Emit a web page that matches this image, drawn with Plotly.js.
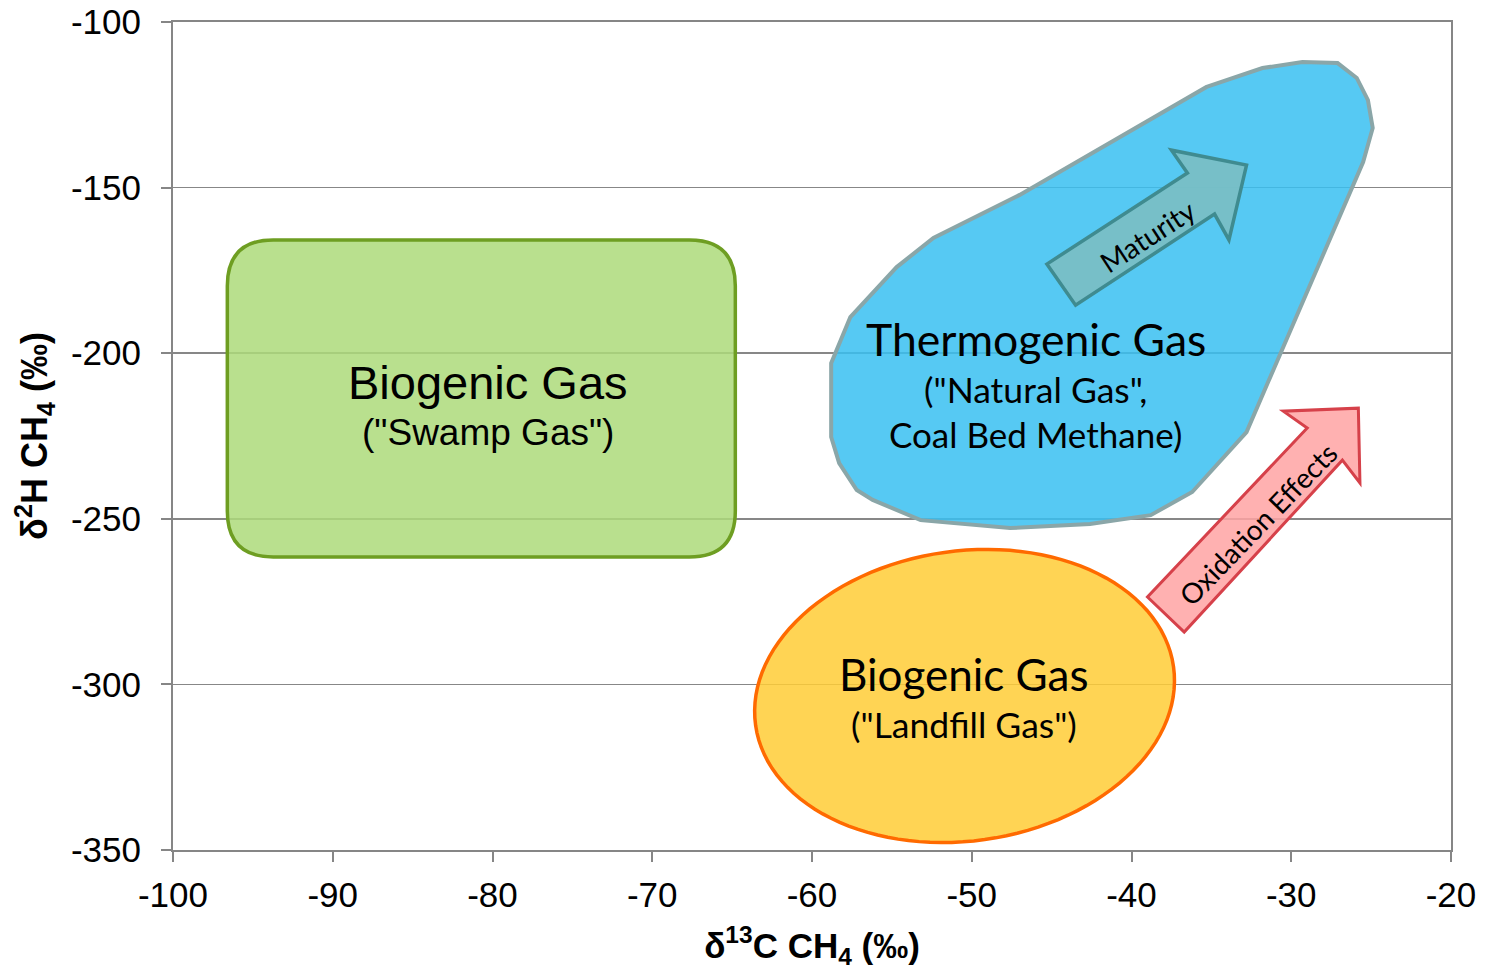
<!DOCTYPE html>
<html>
<head>
<meta charset="utf-8">
<script src="https://cdn.plot.ly/plotly-3.0.1.min.js"></script>
<style>html,body{margin:0;padding:0;background:#fff;}</style>
</head>
<body>
<div id="chart" style="width:1487px;height:970px;"></div>
<script>
// ---- axis ticks ----
const xTickVals = [-100, -90, -80, -70, -60, -50, -40, -30, -20];
const xTickText = ['-100', '-90', '-80', '-70', '-60', '-50', '-40', '-30', '-20'];
const yTickVals = [-100, -150, -200, -250, -300, -350];
const yTickText = ['-100', '-150', '-200', '-250', '-300', '-350'];

// ---- field outlines (δ13C, δ2H) ----
const swampX = [-96.6, -64.8];          // left, right
const swampY = [-261.5, -165.8];        // bottom, top
const thermoX = [-35.3, -31.8, -29.3, -27.1, -25.9, -25.2, -24.9, -25.5, -32.8, -36.2, -38.8, -42.6, -47.6, -53.2, -56.2, -57.2, -58.3, -58.8, -58.8, -57.6, -54.7, -52.4, -47.0];
const thermoY = [-119.6, -113.9, -112.1, -112.4, -116.9, -123.6, -132.0, -142.3, -223.8, -241.9, -248.9, -251.6, -252.8, -250.4, -244.3, -241.3, -233.2, -225.3, -203.0, -189.1, -174.0, -165.2, -152.2];
const landfillCenter = [-50.45, -303.5];

// ---- trend arrows ----
const maturityX = [-45.3, -43.5, -34.8, -33.9, -32.8, -37.5, -36.5];
const maturityY = [-173.1, -185.5, -158.0, -165.8, -143.2, -138.7, -145.6];
const oxidationX = [-39.0, -36.7, -26.8, -25.7, -25.8, -30.5, -29.0];
const oxidationY = [-273.6, -284.2, -232.3, -239.2, -216.6, -217.5, -222.6];

// ---- labels ----
const labelText = ['Biogenic Gas', '("Swamp Gas")', 'Thermogenic Gas', '("Natural Gas",', 'Coal Bed Methane)', 'Biogenic Gas', '("Landfill Gas")', 'Maturity', 'Oxidation Effects'];
const labelX = [-80.3, -80.3, -46.0, -46.0, -46.0, -50.5, -50.5, -39.0, -32.1];
const labelY = [-208.7, -223.8, -195.6, -211.1, -224.4, -296.8, -312.2, -164.6, -251.6];

// ---- layout geometry / styles ----
const W = 1487, H = 970;
const M = {l: 173, r: 36, t: 22, b: 120};
const xRange = [-100, -20], yRange = [-350, -100];
const sx = (W - M.l - M.r) / (xRange[1] - xRange[0]);
const sy = (H - M.t - M.b) / (yRange[1] - yRange[0]);

function polyPath(xs, ys) {
  return 'M ' + xs.map((x, i) => x + ' ' + ys[i]).join(' L ') + ' Z';
}
function roundRectPath(xs, ys, rpx) {
  const x0 = xs[0], x1 = xs[1], y0 = ys[0], y1 = ys[1];
  const rx = rpx / sx, ry = rpx / sy;
  return `M ${x0 + rx} ${y1} L ${x1 - rx} ${y1} Q ${x1} ${y1} ${x1} ${y1 - ry} ` +
         `L ${x1} ${y0 + ry} Q ${x1} ${y0} ${x1 - rx} ${y0} L ${x0 + rx} ${y0} ` +
         `Q ${x0} ${y0} ${x0} ${y0 + ry} L ${x0} ${y1 - ry} Q ${x0} ${y1} ${x0 + rx} ${y1} Z`;
}
function ellipsePath(c, apx, bpx, deg) {
  const th = deg * Math.PI / 180, pts = [];
  for (let k = 0; k < 120; k++) {
    const t = 2 * Math.PI * k / 120;
    const dx = apx * Math.cos(t) * Math.cos(th) - bpx * Math.sin(t) * Math.sin(th);
    const dy = apx * Math.cos(t) * Math.sin(th) + bpx * Math.sin(t) * Math.cos(th);
    pts.push((c[0] + dx / sx).toFixed(3) + ' ' + (c[1] - dy / sy).toFixed(3));
  }
  return 'M ' + pts.join(' L ') + ' Z';
}

const shapes = [
  {type: 'path', path: ellipsePath(landfillCenter, 211, 145, -8), layer: 'above',
   fillcolor: 'rgba(255,204,54,0.85)', line: {color: '#FF6A00', width: 3.5}},
  {type: 'path', path: roundRectPath(swampX, swampY, 46), layer: 'above',
   fillcolor: 'rgba(173,219,122,0.85)', line: {color: '#6E9E22', width: 3.5}},
  {type: 'path', path: polyPath(thermoX, thermoY), layer: 'above',
   fillcolor: 'rgba(56,191,241,0.85)', line: {color: '#8AA6A8', width: 4}},
  {type: 'path', path: polyPath(maturityX, maturityY), layer: 'above',
   fillcolor: 'rgba(122,190,196,0.92)', line: {color: '#3F8B90', width: 3.5}},
  {type: 'path', path: polyPath(oxidationX, oxidationY), layer: 'above',
   fillcolor: 'rgba(255,163,163,0.85)', line: {color: '#D6414A', width: 3}}
];

const calibri = 'Lato, Carlito, Calibri, sans-serif';
const arial = '"Liberation Sans", Arial, sans-serif';
const labelFonts = [
  {family: arial, size: 47}, {family: arial, size: 37},
  {family: calibri, size: 44.5}, {family: calibri, size: 35.5}, {family: calibri, size: 35},
  {family: calibri, size: 44}, {family: calibri, size: 35.5},
  {family: calibri, size: 28}, {family: calibri, size: 28}
];
const labelAngles = [0, 0, 0, 0, 0, 0, 0, -33, -46];

const annotations = labelText.map((t, i) => ({
  x: labelX[i], y: labelY[i], xref: 'x', yref: 'y', text: t, showarrow: false,
  xanchor: 'center', yanchor: 'middle', textangle: labelAngles[i],
  font: Object.assign({color: '#000'}, labelFonts[i])
}));

const axisCommon = {
  showline: true, linecolor: '#868686', linewidth: 2, mirror: true,
  ticks: 'outside', ticklen: 10, tickwidth: 2, tickcolor: '#868686',
  zeroline: false, fixedrange: true,
  tickfont: {family: arial, size: 35, color: '#000'}
};

const layout = Object.assign({
  width: W, height: H, margin: M, showlegend: false,
  paper_bgcolor: '#fff', plot_bgcolor: '#fff',
  xaxis: Object.assign({}, axisCommon, {
    range: xRange, tickmode: 'array', tickvals: xTickVals, ticktext: xTickText,
    showgrid: false, ticklabelstandoff: 3,
    title: {text: 'δ<sup>13</sup>C CH<sub>4</sub> (‰)', standoff: 22,
            font: {family: arial, size: 35, color: '#000', weight: 'bold'}}
  }),
  yaxis: Object.assign({}, axisCommon, {
    range: yRange, tickmode: 'array', tickvals: yTickVals, ticktext: yTickText,
    showgrid: true, gridcolor: '#878787', gridwidth: 1.5, ticklabelstandoff: 13,
    title: {text: 'δ<sup>2</sup>H CH<sub>4</sub> (‰)', standoff: 12,
            font: {family: arial, size: 36, color: '#000', weight: 'bold'}}
  }),
  shapes: shapes, annotations: annotations
});

Plotly.newPlot('chart', [{x: [], y: [], type: 'scatter', mode: 'markers', hoverinfo: 'skip'}], layout,
  {displayModeBar: false, staticPlot: true});
</script>
</body>
</html>
